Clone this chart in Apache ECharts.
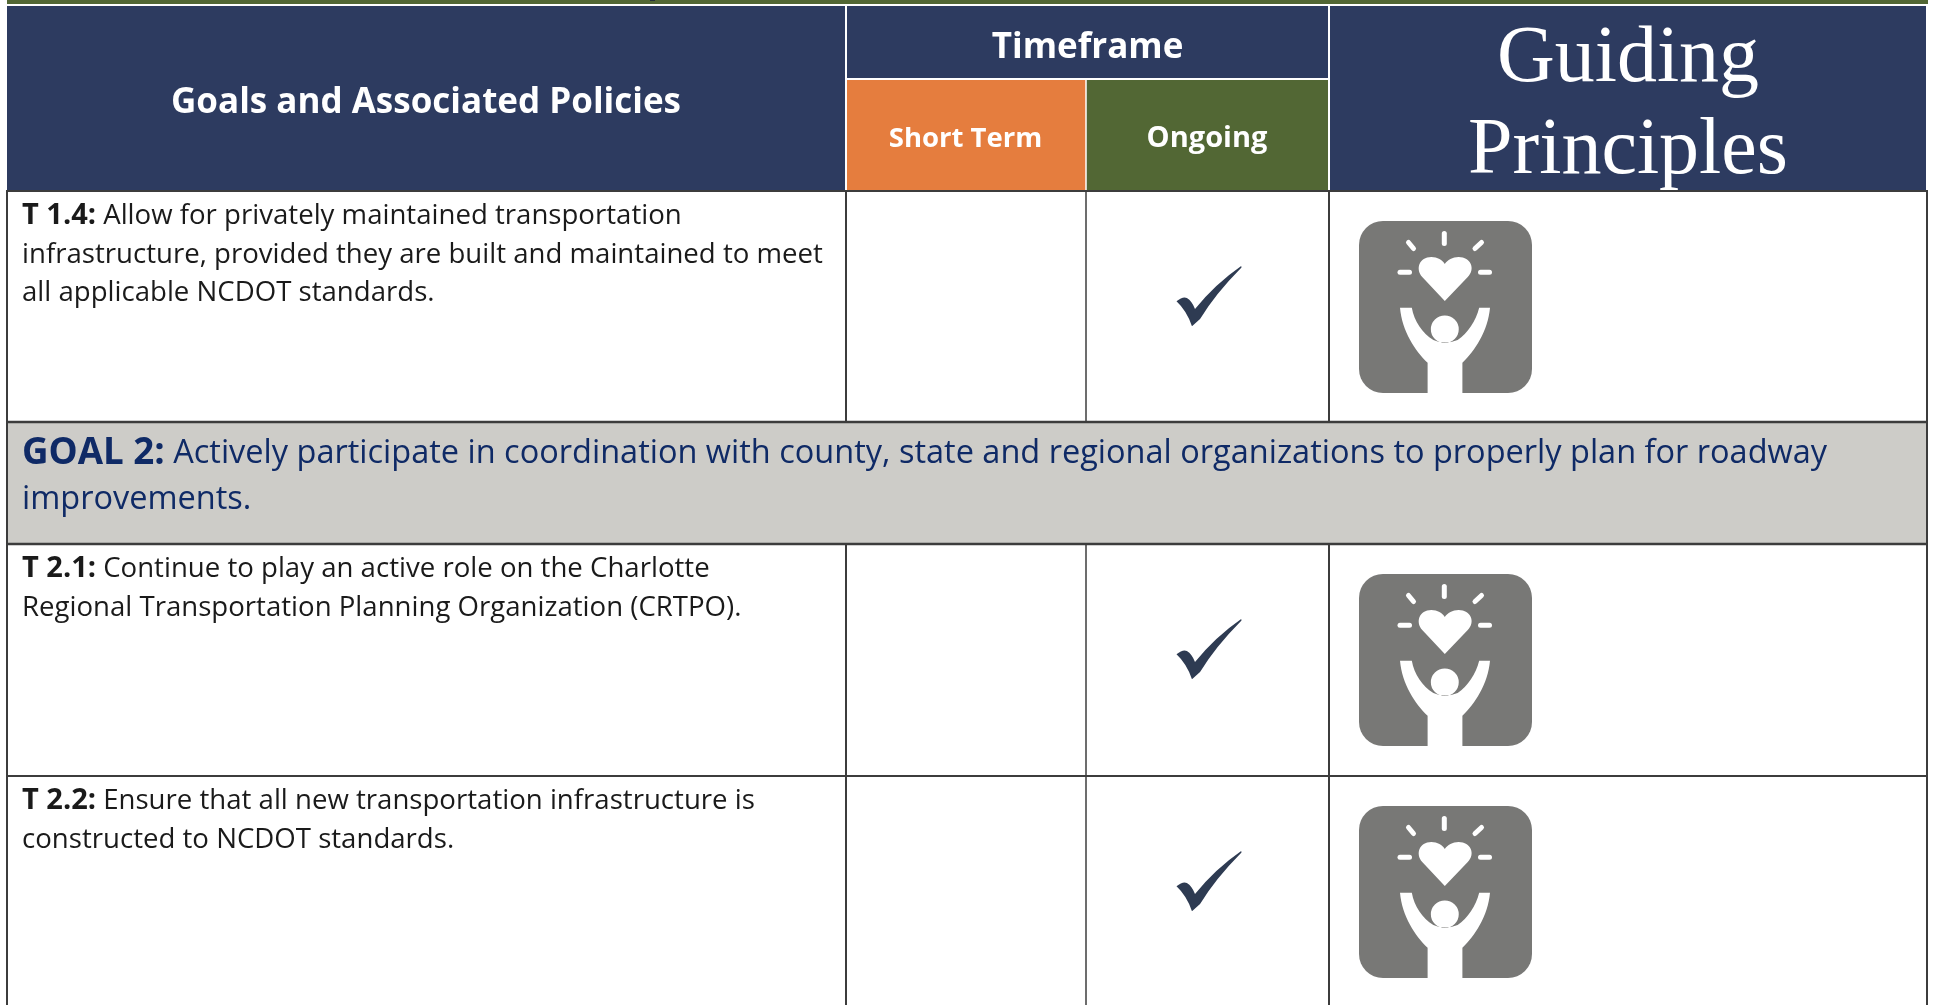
<!DOCTYPE html>
<html>
<head>
<meta charset="UTF-8">
<title>Goals and Associated Policies</title>
<script src="https://cdn.jsdelivr.net/npm/echarts@6/dist/echarts.min.js"></script>
<style>
html,body { height:100%; width:100%; margin:0; background:#fff; }
#chart { width:1933px; height:1005px; }
</style>
</head>
<body>
<div id="chart"></div>
<script>
// table content
var headGoals = 'Goals and Associated Policies';
var headTimeframe = 'Timeframe';
var headColumns = ['Short Term', 'Ongoing'];
var headPrinciples = ['Guiding', 'Principles'];

var rowTypes = ['policy', 'goal', 'policy', 'policy'];
var rowLabels = ['T 1.4:', 'GOAL 2:', 'T 2.1:', 'T 2.2:'];
var rowLines = [
    [' Allow for privately maintained transportation', 'infrastructure, provided they are built and maintained to meet', 'all applicable NCDOT standards.'],
    [' Actively participate in coordination with county, state and regional organizations to properly plan for roadway', 'improvements.'],
    [' Continue to play an active role on the Charlotte', 'Regional Transportation Planning Organization (CRTPO).'],
    [' Ensure that all new transportation infrastructure is', 'constructed to NCDOT standards.']
];
var shortTermChecks = [0, 0, 0, 0];
var ongoingChecks = [1, 0, 1, 1];
var principleIcons = [1, 0, 1, 1];

// layout of the page, in page pixels
var colX = [7, 846, 1086, 1329, 1927];
var headY = [6, 80, 191];
var rowY = [191, 422, 544, 776, 1005];
var bodyFont = '"Open Sans"';

var checkPath = 'M0.7 35.3 Q7 30 11 32 Q16 35 19 43 Q39 18 64.7 0 L65 1.5 Q39 28 24 53 L16 60.3 Q11 45 0.7 35.3 Z';
var personPath = 'M41 86.7 L52.7 86.7 C55 100 63 112 74 119 Q85 124 98 119 C108 112 116 100 119.3 86.7 L130 86.7 C128 110 115 130 102.7 141.7 L102.7 172 L68.3 172 L68.3 141.7 C56 130 43 110 41 86.7 Z'
    + ' M85.3 80 L63 56 C56 48 60 36 72 36 C78 36 83 39 85.3 43 C88 39 93 36 99 36 C111 36 116 48 108 56 Z'
    + ' M71.5 108.3 A13.8 13.8 0 1 0 99.1 108.3 A13.8 13.8 0 1 0 71.5 108.3 Z';
var rayLines = [[85.3, 12.5, 85.3, 22.5], [49.5, 21.5, 54.5, 27.5], [122.5, 21.5, 116, 27.5], [41, 51.3, 50.5, 51.3], [121.5, 51.3, 130.5, 51.3]];

function fillRect(api, x0, y0, x1, y1, color) {
    var a = api.coord([x0, y0]);
    var b = api.coord([x1, y1]);
    return { type:'rect', shape:{ x:a[0], y:a[1], width:b[0]-a[0], height:b[1]-a[1] }, style:{ fill:color } };
}

function label(api, x, y, text, font, size, weight, color, align, rich) {
    var p = api.coord([x, y]);
    return { type:'text', style:{ x:p[0], y:p[1], text:text, fontFamily:font, fontSize:size, fontWeight:weight, fill:color,
        align:align, verticalAlign:'middle', rich:rich } };
}

function rule(api, x0, y0, x1, y1, color, width) {
    var a = api.coord([x0, y0]);
    var b = api.coord([x1, y1]);
    return { type:'line', shape:{ x1:a[0], y1:a[1], x2:b[0], y2:b[1] }, style:{ stroke:color, lineWidth:width } };
}

function drawHeader(params, api) {
    var navy = '#2d3b60';
    var kids = [
        fillRect(api, colX[0], 0, 1928, 4, '#526734'),
        fillRect(api, 650, 0, 655, 1, '#26303a'),
        fillRect(api, colX[0], headY[0], 1926, headY[2] - 1, navy),
        fillRect(api, colX[1], headY[1], colX[2], headY[2] - 1, '#e57d3e'),
        fillRect(api, colX[2], headY[1], colX[3], headY[2] - 1, '#526734'),
        rule(api, colX[1], headY[0], colX[1], headY[2], '#fff', 2),
        rule(api, colX[3], headY[0], colX[3], headY[2], '#fff', 2),
        rule(api, colX[2], headY[1], colX[2], headY[2], '#fff', 1.5),
        rule(api, colX[1], headY[1] - 1, colX[3], headY[1] - 1, '#fff', 2),
        label(api, 426, 103, headGoals, bodyFont, 35, 'bold', '#fff', 'center'),
        label(api, 1087.5, 48, headTimeframe, bodyFont, 35, 'bold', '#fff', 'center'),
        label(api, 965.5, 139, headColumns[0], bodyFont, 27.5, 'bold', '#fff', 'center'),
        label(api, 1207, 139, headColumns[1], bodyFont, 29, 'bold', '#fff', 'center'),
        label(api, 1628, 60, headPrinciples[0], '"Liberation Serif"', 80, 'normal', '#fff', 'center'),
        label(api, 1628, 152, headPrinciples[1], '"Liberation Serif"', 80, 'normal', '#fff', 'center')
    ];
    return { type:'group', children:kids };
}

function drawRow(params, api) {
    var i = api.value(0);
    var top = rowY[i], bottom = rowY[i + 1];
    var kids = [];
    var isGoal = rowTypes[i] === 'goal';
    var color = isGoal ? '#0f2a66' : '#1a1a1a';
    var rich = { b:{ fontFamily:bodyFont, fontSize:isGoal ? 36.7 : 29, fontWeight:'bold', fill:color },
                 t:{ fontFamily:bodyFont, fontSize:isGoal ? 32.5 : 27.6, fill:color } };
    var lineH = isGoal ? 46 : 38.8;
    var firstY = isGoal ? 31.5 : 25;

    if (isGoal) {
        kids.push(fillRect(api, colX[0], top, colX[4], bottom, '#cdccc8'));
    } else {
        kids.push(fillRect(api, colX[0], top, colX[4], bottom, '#fff'));
        kids.push(rule(api, colX[1], top, colX[1], bottom, '#3c3c3c', 2));
        kids.push(rule(api, colX[2], top, colX[2], bottom, '#3c3c3c', 1.5));
        kids.push(rule(api, colX[3], top, colX[3], bottom, '#3c3c3c', 2));
    }

    rowLines[i].forEach(function (line, n) {
        var text = n === 0 ? '{b|' + rowLabels[i] + '}{t|' + line + '}' : '{t|' + line + '}';
        kids.push(label(api, 22, top + firstY + n * lineH, text, bodyFont, 28, 'normal', color, 'left', rich));
    });

    if (ongoingChecks[i] || shortTermChecks[i]) {
        var colA = ongoingChecks[i] ? 2 : 1;
        var c = api.coord([(colX[colA] + colX[colA + 1]) / 2 - 31, top + 75]);
        kids.push({ type:'path', shape:{ pathData:checkPath, x:c[0], y:c[1], width:65, height:60.3, layout:'cover' }, style:{ fill:'#2e3b52' } });
    }

    if (principleIcons[i]) {
        var o = api.coord([1359, top + 30]);
        kids.push({ type:'rect', shape:{ x:o[0], y:o[1], width:173, height:172, r:24 }, style:{ fill:'#787876' } });
        kids.push({ type:'path', shape:{ pathData:personPath, x:o[0] + 41, y:o[1] + 36, width:90, height:136, layout:'cover' }, style:{ fill:'#fff' } });
        rayLines.forEach(function (r) {
            kids.push({ type:'line', shape:{ x1:o[0]+r[0], y1:o[1]+r[1], x2:o[0]+r[2], y2:o[1]+r[3] }, style:{ stroke:'#fff', lineWidth:5, lineCap:'round' } });
        });
    }
    return { type:'group', children:kids };
}

function drawRules(params, api) {
    var kids = [
        rule(api, colX[0], rowY[0] - 1, colX[0], rowY[4], '#3c3c3c', 2),
        rule(api, colX[4], rowY[0] - 1, colX[4], rowY[4], '#3c3c3c', 2),
        rule(api, colX[0], rowY[0], colX[4], rowY[0], '#3c3c3c', 2),
        rule(api, colX[0], rowY[1], colX[4], rowY[1], '#3c3c3c', 2.5),
        rule(api, colX[0], rowY[2], colX[4], rowY[2], '#3c3c3c', 2.5),
        rule(api, colX[0], rowY[3], colX[4], rowY[3], '#3c3c3c', 2)
    ];
    return { type:'group', children:kids };
}

var chart = echarts.init(document.getElementById('chart'));
chart.setOption({
    animation:false,
    grid:{ left:0, right:0, top:0, bottom:0 },
    xAxis:{ type:'value', min:0, max:1933, show:false },
    yAxis:{ type:'value', min:0, max:1005, inverse:true, show:false },
    series:[
        { type:'custom', coordinateSystem:'cartesian2d', silent:true, clip:false, encode:{ x:1, y:1 }, data:[[0, 0]], renderItem:drawHeader },
        { type:'custom', coordinateSystem:'cartesian2d', silent:true, clip:false, encode:{ x:1, y:1 }, data:rowTypes.map(function (t, i) { return [i, 0]; }), renderItem:drawRow },
        { type:'custom', coordinateSystem:'cartesian2d', silent:true, clip:false, encode:{ x:1, y:1 }, data:[[0, 0]], renderItem:drawRules }
    ]
});
</script>
</body>
</html>
